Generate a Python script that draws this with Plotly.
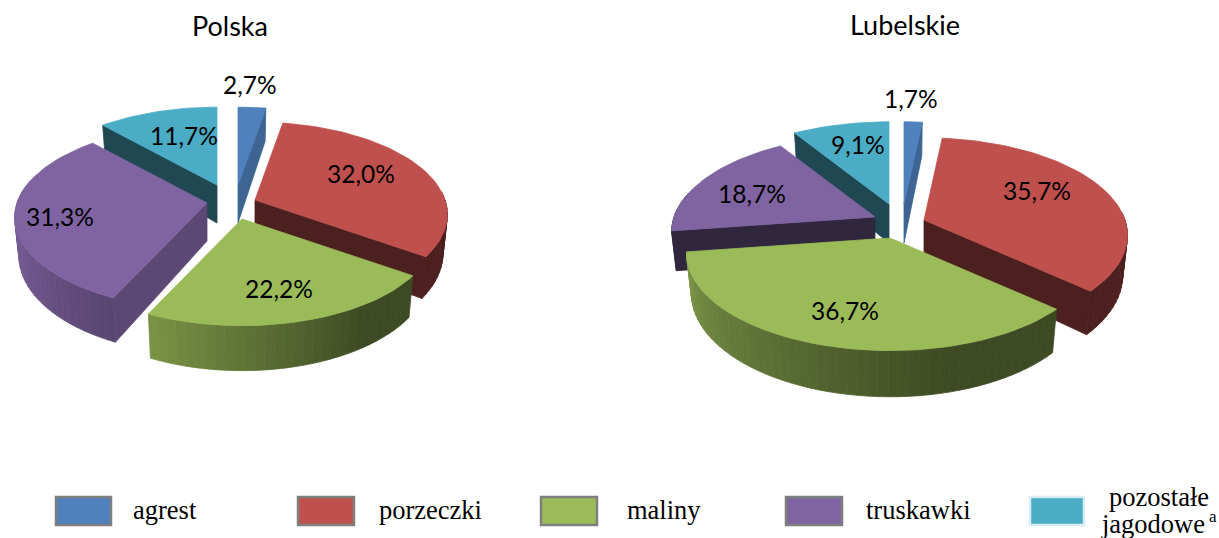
import math
import plotly.graph_objects as go

# ---- data ----
categories = ["agrest", "porzeczki", "maliny", "truskawki", "pozostałe jagodowe"]
polska_values = [2.7, 32.0, 22.2, 31.3, 11.7]
lubelskie_values = [1.7, 35.7, 36.7, 18.7, 9.1]
chart_titles = ["Polska", "Lubelskie"]

# ---- styling ----
COLORS = ["#4F81BD", "#C0504D", "#9BBB59", "#8064A2", "#4BACC6"]
W, H = 1219, 538
K = 0.156          # perspective of the tilted disc
TAPER = 0.0006     # the lower rim narrows slightly
DRAW_ORDER = [4, 0, 3, 1, 2]
FS_LABEL = 24.5
FS_TITLE = 27
FS_LEGEND = 26.5

pie_styles = [
    dict(rx=190, ry=90, depth=38, name=chart_titles[0], values=polska_values,
         tips=[(238, 185), (255, 200), (242, 219), (207, 203), (217, 185)],
         title_xy=(230, 25.5),
         label_xy=[(250, 84.5), (361, 173.5), (279, 288.5), (60, 216.5), (184, 135.5)],
         # slice index -> (which radial edge shows a flat cut face, its shade)
         cuts={0: ("end", 0.78), 1: ("end", 0.40), 3: ("start", 0.72), 4: ("start", 0.42)},
         # slice index -> shade of the outer wall from its start to its end
         walls={1: (0.40, 0.40), 2: (0.40, 0.80), 3: (0.70, 0.92)}),
    dict(rx=201, ry=95, depth=39, name=chart_titles[1], values=lubelskie_values,
         tips=[(904, 204), (924, 220), (890, 238), (875, 217), (889, 204)],
         title_xy=(905, 24.5),
         label_xy=[(911, 98.5), (1037, 190.5), (845, 310.5), (752, 193.5), (858, 144.5)],
         cuts={0: ("end", 0.78), 1: ("end", 0.40), 3: ("start", 0.38), 4: ("start", 0.42)},
         walls={1: (0.40, 0.40), 2: (0.40, 0.82), 3: (0.38, 0.38)}),
]


def shade(hex_color, f):
    r, g, b = (int(hex_color[i:i + 2], 16) for i in (1, 3, 5))
    return "rgb(%d,%d,%d)" % (r * f, g * f, b * f)


def project(tip, rx, ry, deg, depth=0.0):
    """Point on the tilted unit disc (0 deg = top, clockwise) in page pixels."""
    u, v = math.sin(math.radians(deg)), math.cos(math.radians(deg))
    s = 1 / (1 + K * v)
    return tip[0] + rx * u * s * (1 - TAPER * depth), tip[1] - ry * v * s + depth * s


fig = go.Figure()


def poly(xs, ys, color, name):
    fig.add_trace(go.Scatter(x=xs + xs[:1], y=ys + ys[:1], mode="lines", fill="toself",
                             fillcolor=color, line=dict(color=color, width=0.8),
                             hoverinfo="skip", name=name, showlegend=False))


for pie in pie_styles:
    total = sum(pie["values"])
    spans, a = [], 0.0
    for val in pie["values"]:
        spans.append((a, a + 360 * val / total))
        a += 360 * val / total
    for i in DRAW_ORDER:
        a0, a1 = spans[i]
        tip = pie["tips"][i]
        rx, ry, d = pie["rx"], pie["ry"], pie["depth"]
        col = COLORS[i]
        nm = f'{pie["name"]}: {categories[i]}'
        # outer curved wall, as a sweep of narrow shaded strips
        if i in pie["walls"]:
            lo, hi = max(a0, 85), min(a1, 285)
            n = max(2, int((hi - lo) / 2.5))
            f0, f1 = pie["walls"][i]
            for j in range(n):
                b0 = lo + (hi - lo) * j / n
                b1 = lo + (hi - lo) * (j + 1) / n
                t = j / n
                if i == 2:
                    t = max(0.0, (t - 0.25) / 0.75)
                else:
                    t = min(1.0, t / 0.6)
                f = f0 + (f1 - f0) * t
                pts = [project(tip, rx, ry, b0), project(tip, rx, ry, b1),
                       project(tip, rx, ry, b1, d), project(tip, rx, ry, b0, d)]
                poly([p[0] for p in pts], [p[1] for p in pts], shade(col, f), nm)
        # flat cut face along one radial edge
        if i in pie["cuts"]:
            which, f = pie["cuts"][i]
            edge = a1 if which == "end" else a0
            p = project(tip, rx, ry, edge)
            q = project(tip, rx, ry, edge, d)
            poly([tip[0], p[0], q[0], tip[0]], [tip[1], p[1], q[1], tip[1] + d],
                 shade(col, f), nm)
        # top face
        n = max(4, int((a1 - a0) / 2))
        arc = [project(tip, rx, ry, a0 + (a1 - a0) * j / n) for j in range(n + 1)]
        poly([tip[0]] + [p[0] for p in arc], [tip[1]] + [p[1] for p in arc], col, nm)

annotations = []


def text(x, y, s, family, size):
    annotations.append(dict(x=x, y=y, xref="x", yref="y", text=s, showarrow=False,
                            xanchor="center", yanchor="middle",
                            font=dict(family=family, size=size, color="#000000")))


for pie in pie_styles:
    text(*pie["title_xy"], pie["name"], "Lato", FS_TITLE)
    for xy, val in zip(pie["label_xy"], pie["values"]):
        text(*xy, f"{val:.1f}%".replace(".", ","), "Lato", FS_LABEL)

# legend
SERIF = "Liberation Serif"
swatches = [(56, 111), (298, 354), (541, 597), (786, 842), (1030, 1084)]
legend_x = [165, 430, 664, 918]
shapes = []
for i, (x0, x1) in enumerate(swatches):
    edge = "#D6EDF3" if i == 4 else "#7F7F7F"
    shapes.append(dict(type="rect", xref="x", yref="y", x0=x0, x1=x1, y0=497, y1=525,
                       fillcolor=COLORS[i], line=dict(color=edge, width=2.5)))
for x, c in zip(legend_x, categories[:4]):
    text(x, 510, c, SERIF, FS_LEGEND)
first, second = categories[4].split(" ")
text(1159, 497, first, SERIF, FS_LEGEND)
text(1153, 524, second, SERIF, FS_LEGEND)
text(1213, 516, "a", SERIF, 17)

fig.update_layout(
    width=W, height=H, margin=dict(l=0, r=0, t=0, b=0), autosize=False,
    paper_bgcolor="white", plot_bgcolor="white", showlegend=False,
    xaxis=dict(range=[0, W], visible=False, fixedrange=True),
    yaxis=dict(range=[H, 0], visible=False, fixedrange=True),
    annotations=annotations, shapes=shapes,
)
fig.write_html("out.html", config={"displayModeBar": False},
               post_script="document.body.style.margin='0';")
